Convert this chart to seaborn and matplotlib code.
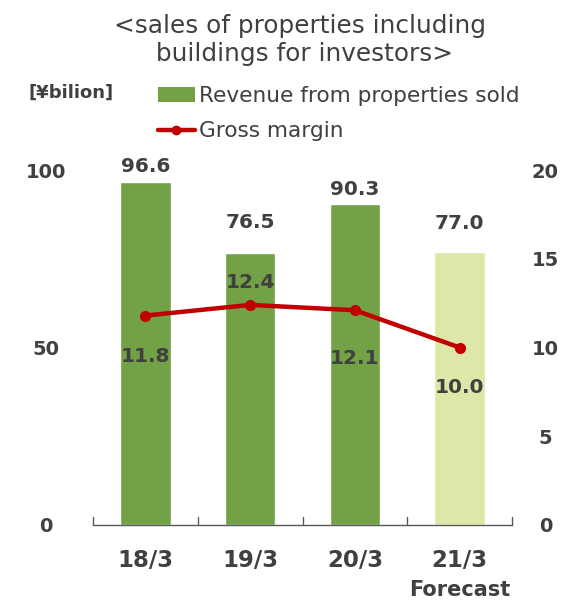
import matplotlib
matplotlib.use("Agg")
import matplotlib.pyplot as plt
import seaborn as sns
import pandas as pd
from matplotlib.patches import Patch
from matplotlib.lines import Line2D

categories = ["18/3", "19/3", "20/3", "21/3"]
revenue = [96.6, 76.5, 90.3, 77.0]
gross_margin = [11.8, 12.4, 12.1, 10.0]
bar_colors = ["#72A146", "#72A146", "#72A146", "#DDE8A8"]

# label offsets (styling only)
revenue_label_offset = [1.8, 6.0, 1.5, 5.2]
margin_label_offset = [-2.3, 1.27, -2.7, -2.24]

TXT = "#404040"
sns.set_theme(style="white")
plt.rcParams["font.family"] = ["DejaVu Sans"]

fig = plt.figure(figsize=(5.67, 6.0), dpi=100)
ax = fig.add_axes([93/567, 1-525/600, 419/567, 355/600])

df = pd.DataFrame({"cat": categories, "rev": revenue})
sns.barplot(data=df, x="cat", y="rev", hue="cat", palette=bar_colors,
            legend=False, width=0.48, ax=ax, saturation=1)
ax.set_ylim(0, 100)
ax.set_xlim(-0.5, 3.5)
ax.set_yticks([0, 50, 100])
ax.set_xlabel("")
ax.set_ylabel("")
for s in ["top", "left", "right"]:
    ax.spines[s].set_visible(False)
ax.spines["bottom"].set_color("#595959")
ax.spines["bottom"].set_linewidth(1.0)
ax.tick_params(axis="y", length=0, labelsize=14, labelcolor=TXT, pad=34)
ax.tick_params(axis="x", length=0, labelsize=16.5, labelcolor=TXT, pad=17)
for lbl in ax.get_xticklabels():
    lbl.set_fontweight("bold")
for lbl in ax.get_yticklabels():
    lbl.set_fontweight("bold")
    lbl.set_horizontalalignment("center")
# boundary ticks
for b in [-0.5, 0.5, 1.5, 2.5, 3.5]:
    ax.plot([b, b], [0, 2.2], color="#595959", lw=1.0, clip_on=False)

for i, (v, d) in enumerate(zip(revenue, revenue_label_offset)):
    ax.text(i, v + d, f"{v:.1f}", ha="center", va="bottom", fontsize=14.5,
            fontweight="bold", color=TXT)

ax2 = ax.twinx()
ax2.plot(range(len(categories)), gross_margin, color="#C00000", lw=3.2,
         marker="o", markersize=7)
ax2.set_ylim(0, 20)
ax2.set_yticks([0, 5, 10, 15, 20])
for s in ["top", "left", "right", "bottom"]:
    ax2.spines[s].set_visible(False)
ax2.tick_params(axis="y", length=0, labelsize=14, labelcolor=TXT, pad=24)
for lbl in ax2.get_yticklabels():
    lbl.set_fontweight("bold")
    lbl.set_horizontalalignment("center")
ax2.grid(False)
ax.grid(False)

for i, (v, d) in enumerate(zip(gross_margin, margin_label_offset)):
    ax2.text(i, v + d, f"{v:.1f}", ha="center", va="center", fontsize=14.5,
             fontweight="bold", color=TXT)

fig.text(300/567, 1-40/600, "<sales of properties including\n buildings for investors>",
         ha="center", va="center", fontsize=17.8, color=TXT, linespacing=1.2)
fig.text(28/567, 1-93/600, "[¥bilion]", ha="left", va="center", fontsize=13,
         fontweight="bold", color=TXT)
fig.text(460/567, 1-590/600, "Forecast", ha="center", va="center", fontsize=15,
         fontweight="bold", color=TXT)

handles = [Patch(facecolor="#72A146", edgecolor="none"),
           Line2D([0], [0], color="#C00000", lw=3.2, marker="o", markersize=6)]
fig.legend(handles, ["Revenue from properties sold", "Gross margin"],
           loc="upper left", bbox_to_anchor=(149/567, 1-77/600), frameon=False,
           fontsize=15.6, labelcolor=TXT, handlelength=1.7, handleheight=0.7,
           handletextpad=0.2, labelspacing=0.72, borderaxespad=0)

fig.savefig("out.png", dpi=100)
